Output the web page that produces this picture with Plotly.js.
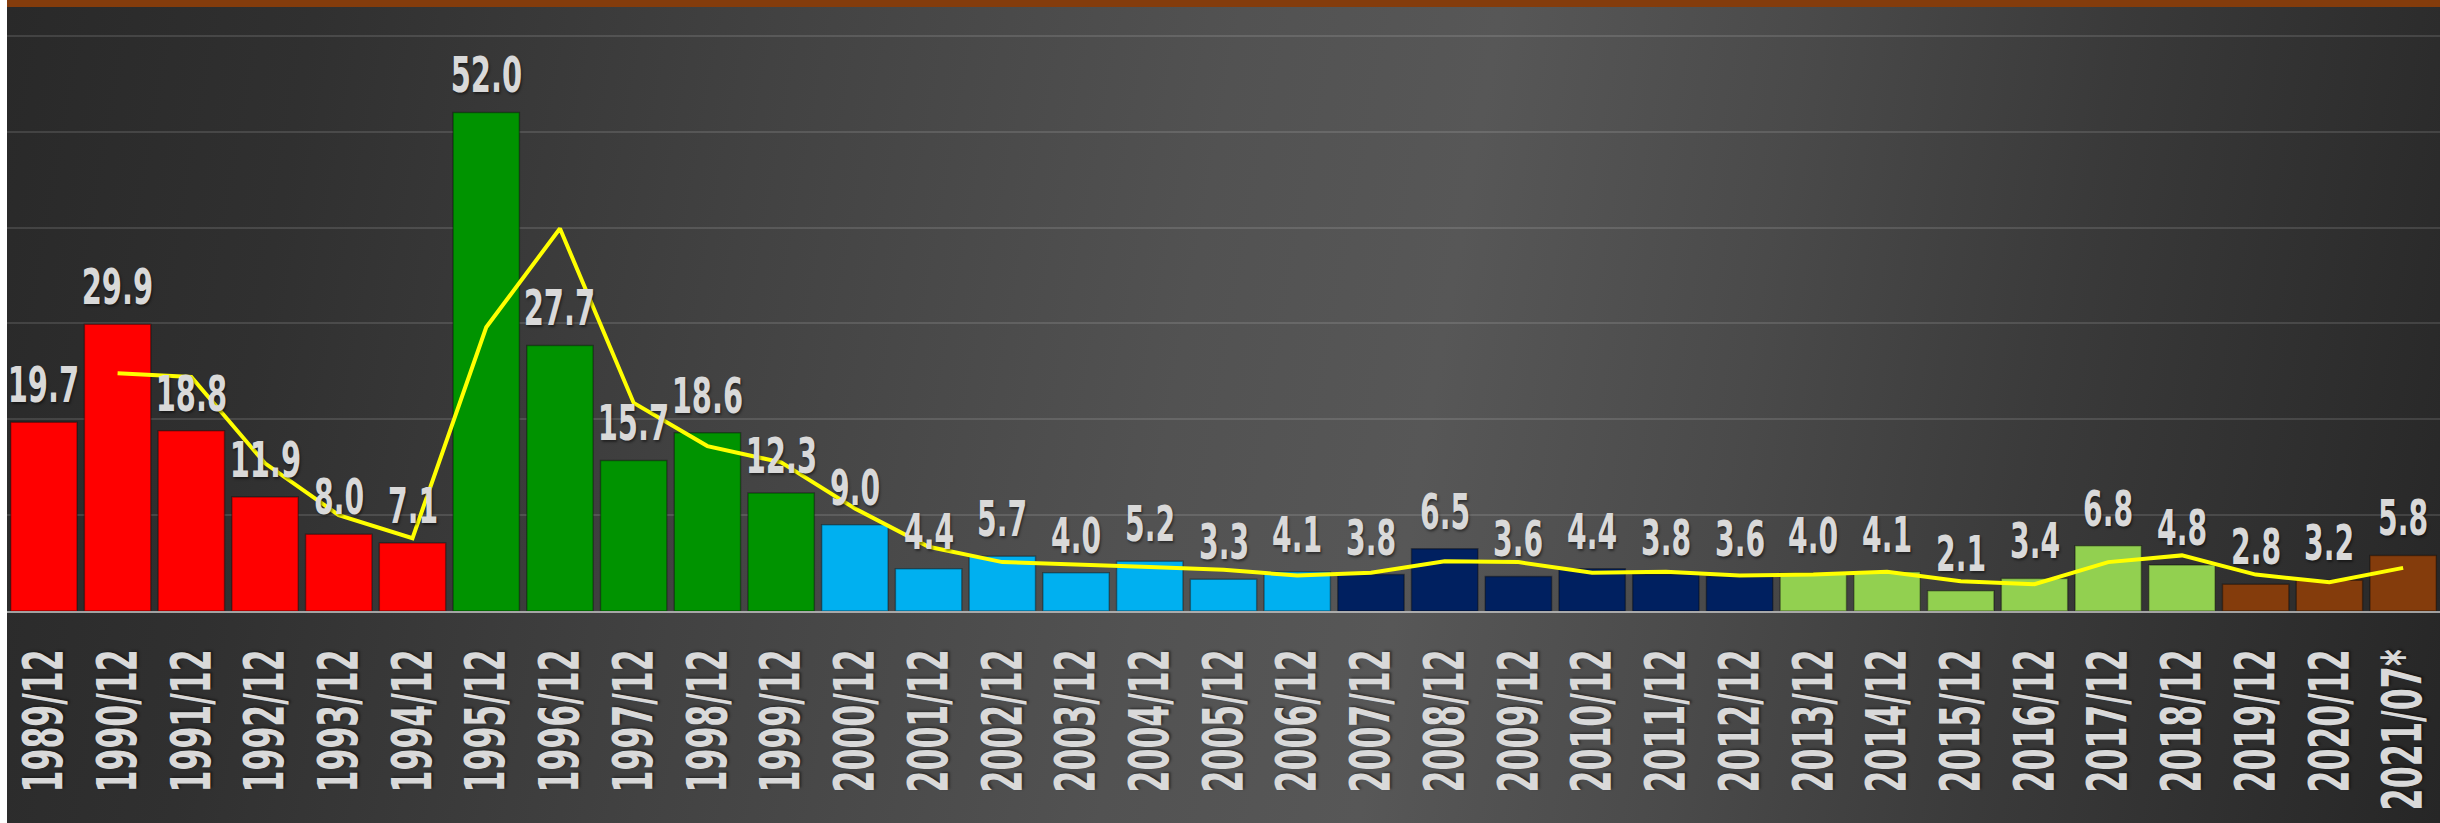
<!DOCTYPE html>
<html>
<head>
<meta charset="utf-8">
<script src="https://cdn.plot.ly/plotly-3.0.1.min.js"></script>
<style>
  html, body { margin: 0; padding: 0; background: #ffffff; width: 2440px; height: 823px; overflow: hidden; }
  #chart {
    position: absolute; left: 7px; top: 0; width: 2433px; height: 823px;
    background: linear-gradient(100deg, #292929 0%, #303030 12%, #424242 30%, #525252 48%, #575757 58%, #4a4a4a 70%, #3a3a3a 82%, #262626 100%);
  }
</style>
</head>
<body>
<div id="chart"></div>
<script>
const categories = ["1989/12","1990/12","1991/12","1992/12","1993/12","1994/12","1995/12","1996/12","1997/12","1998/12","1999/12","2000/12","2001/12","2002/12","2003/12","2004/12","2005/12","2006/12","2007/12","2008/12","2009/12","2010/12","2011/12","2012/12","2013/12","2014/12","2015/12","2016/12","2017/12","2018/12","2019/12","2020/12","2021/07*"];
const values = [19.7,29.9,18.8,11.9,8.0,7.1,52.0,27.7,15.7,18.6,12.3,9.0,4.4,5.7,4.0,5.2,3.3,4.1,3.8,6.5,3.6,4.4,3.8,3.6,4.0,4.1,2.1,3.4,6.8,4.8,2.8,3.2,5.8];
const barColors = ["#ff0000","#ff0000","#ff0000","#ff0000","#ff0000","#ff0000","#009300","#009300","#009300","#009300","#009300","#00b0f0","#00b0f0","#00b0f0","#00b0f0","#00b0f0","#00b0f0","#00b0f0","#002060","#002060","#002060","#002060","#002060","#002060","#92d050","#92d050","#92d050","#92d050","#92d050","#92d050","#843c0c","#843c0c","#843c0c"];
// trend line (starts at 1990/12)
const trendCategories = categories.slice(1);
const trendValues = [24.8,24.4,15.4,10.0,7.6,29.6,39.9,21.7,17.2,15.5,10.7,6.7,5.1,4.9,4.6,4.3,3.7,4.0,5.2,5.1,4.0,4.1,3.7,3.8,4.1,3.1,2.8,5.1,5.8,3.8,3.0,4.5];

const labelFont = "'DejaVu Sans Condensed', 'Liberation Sans Narrow', sans-serif";
const textShadow = '2px 2px 3px rgba(0,0,0,0.45)';

const traces = [
  {
    type: 'bar',
    x: categories,
    y: values,
    marker: { color: barColors, line: { color: 'rgba(0,0,0,0.35)', width: 1.5 } },
    hoverinfo: 'none'
  },
  {
    type: 'scatter',
    mode: 'lines',
    x: trendCategories,
    y: trendValues,
    line: { color: '#ffff00', width: 4 },
    hoverinfo: 'none'
  }
];

const annotations = categories.map((c, i) => ({
  x: c, y: values[i], xref: 'x', yref: 'y',
  text: values[i].toFixed(1),
  showarrow: false, yanchor: 'bottom', xanchor: 'center', yshift: 6,
  font: { family: labelFont, size: 49, color: '#d9d9d9', weight: 'bold', shadow: textShadow }
}));

const layout = {
  width: 2433, height: 823,
  margin: { l: 0, r: 0, t: 7, b: 212, pad: 0, autoexpand: false },
  paper_bgcolor: 'rgba(0,0,0,0)',
  plot_bgcolor: 'rgba(0,0,0,0)',
  showlegend: false,
  bargap: 0.1,
  xaxis: {
    type: 'category',
    range: [-0.5, categories.length - 0.5],
    automargin: false,
    tickangle: -90,
    ticks: '',
    ticklabelstandoff: 14,
    showline: true, linecolor: 'rgba(200,200,200,0.75)', linewidth: 2,
    showgrid: false, zeroline: false,
    tickfont: { family: labelFont, size: 56, color: '#d9d9d9', weight: 'bold', shadow: textShadow },
    fixedrange: true
  },
  yaxis: {
    range: [0, 63],
    automargin: false,
    dtick: 10, tick0: 0,
    showticklabels: false, ticks: '',
    showgrid: true, gridcolor: 'rgba(255,255,255,0.12)', gridwidth: 2,
    zeroline: false, fixedrange: true
  },
  shapes: [
    { type: 'rect', xref: 'paper', yref: 'paper', x0: 0, x1: 1, y0: 1, y1: 1 + 7/604,
      fillcolor: '#843c0c', line: { width: 0 }, layer: 'above' }
  ],
  annotations: annotations
};

// condense glyphs to mimic the narrow display face of the original
const tickCharW = { digit: 21.5, '/': 14, '*': 18 };
const labelCharW = { digit: 21.5, '.': 7 };
function textLen(s, w) {
  let L = 0;
  for (const ch of s) L += (ch >= '0' && ch <= '9') ? w.digit : (w[ch] || w.digit);
  return L;
}
function condense() {
  document.querySelectorAll('#chart .xtick text').forEach(t => {
    t.setAttribute('textLength', textLen(t.textContent, tickCharW));
    t.setAttribute('lengthAdjust', 'spacingAndGlyphs');
  });
  document.querySelectorAll('#chart .annotation-text').forEach(t => {
    t.setAttribute('textLength', textLen(t.textContent, labelCharW));
    t.setAttribute('lengthAdjust', 'spacingAndGlyphs');
  });
}

Plotly.newPlot('chart', traces, layout, { displayModeBar: false, staticPlot: true }).then(condense);
</script>
</body>
</html>
